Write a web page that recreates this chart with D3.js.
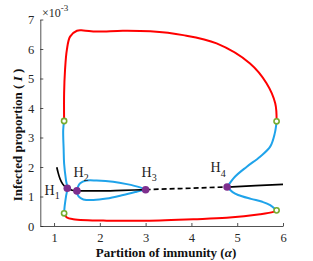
<!DOCTYPE html>
<html><head><meta charset="utf-8">
<script src="https://cdn.jsdelivr.net/npm/d3@7"></script>
<style>
body{margin:0;background:#fff;}
svg{display:block;}
text{font-family:"Liberation Serif","Times New Roman",serif;}
</style></head>
<body>
<svg id="c" width="313" height="261"></svg>
<script>
// ---- data (values in units of 1e-3) ----
const xTicks = [1,2,3,4,5,6];
const yTicks = [0,1,2,3,4,5,6,7];
const redTop = [[1.22,3.56],[1.22,4.5],[1.24,5.29],[1.28,5.97],[1.35,6.42],[1.5,6.62],[1.64,6.63],[1.93,6.59],[2.5,6.62],[3.1,6.6],[3.82,6.47],[4.55,6.19],[5.28,5.51],[5.64,4.84],[5.83,4.16],[5.86,3.56]];
const redBottom = [[1.22,0.43],[1.28,0.29],[1.42,0.23],[2.15,0.18],[3.31,0.19],[4.04,0.23],[4.77,0.28],[5.5,0.40],[5.79,0.48],[5.86,0.53]];
const blueLeft = [[1.22,3.56],[1.20,3.25],[1.21,2.6],[1.22,2.12],[1.26,1.56],[1.29,1.28],[1.26,0.99],[1.23,0.65],[1.22,0.43]];
const blueLoopUpper = [[1.5,1.19],[1.52,1.32],[1.57,1.45],[1.71,1.54],[1.93,1.54],[2.29,1.50],[2.59,1.42],[2.88,1.31],[3.0,1.24]];
const blueLoopLower = [[1.5,1.19],[1.51,1.08],[1.55,0.98],[1.64,0.90],[1.86,0.88],[2.15,0.93],[2.51,1.05],[2.8,1.16],[3.0,1.24]];
const blueRightUpper = [[4.78,1.32],[4.95,1.67],[5.21,2.01],[5.5,2.35],[5.72,2.69],[5.82,3.14],[5.86,3.54]];
const blueRightLower = [[4.78,1.32],[4.9,1.15],[5.02,1.05],[5.3,0.92],[5.55,0.82],[5.72,0.71],[5.86,0.53]];
const blackStable1 = [[1.06,1.99],[1.09,1.8],[1.13,1.6],[1.19,1.42],[1.29,1.28],[1.5,1.19],[2.0,1.19],[2.5,1.21],[3.0,1.23]];
const blackUnstable = [[3.0,1.23],[3.5,1.26],[4.0,1.28],[4.5,1.31],[4.78,1.32]];
const blackStable2 = [[4.78,1.32],[5.4,1.37],[6.0,1.41]];
const hopfPoints = [[1.29,1.28],[1.5,1.19],[3.0,1.23],[4.78,1.32]];
const hopfLabels = ["1","2","3","4"];
const foldPoints = [[1.22,3.56],[1.22,0.43],[5.86,3.55],[5.86,0.53]];

const svg = d3.select("#c");
const x = d3.scaleLinear().domain([0.7,6]).range([40.3,283]);
const y = d3.scaleLinear().domain([0,7]).range([226,19.5]);
const axisCol = "#262626";

// axes
const gx = svg.append("g").attr("transform",`translate(0,${y(0)})`)
  .call(d3.axisBottom(x).tickValues(xTicks).tickSizeInner(-3).tickSizeOuter(0).tickPadding(7).tickFormat(d3.format("d")));
const gy = svg.append("g").attr("transform",`translate(${x(0.7)},0)`)
  .call(d3.axisLeft(y).tickValues(yTicks).tickSizeInner(-3).tickSizeOuter(0).tickPadding(6).tickFormat(d3.format("d")));
[gx,gy].forEach(g=>{
  g.attr("font-family","Liberation Serif, serif").attr("font-size",12.5);
  g.selectAll("path,line").attr("stroke",axisCol).attr("stroke-width",0.8);
  g.selectAll("text").attr("fill",axisCol);
});

// exponent
const ex = svg.append("text").attr("x",42).attr("y",17).attr("fill",axisCol).style("font-size","12px");
ex.append("tspan").text("×10");
ex.append("tspan").attr("dy",-6).style("font-size","9px").text("-3");

// labels
const xl = svg.append("text").attr("x",166).attr("y",256.5).attr("text-anchor","middle")
  .attr("fill","#111").style("font-size","13px").style("font-weight","bold");
xl.append("tspan").text("Partition of immunity (");
xl.append("tspan").style("font-style","italic").text("α");
xl.append("tspan").text(")");
const yl = svg.append("text").attr("transform","translate(22,135) rotate(-90)").attr("text-anchor","middle")
  .attr("fill","#111").style("font-size","13px").style("font-weight","bold");
yl.append("tspan").text("Infected proportion ( ");
yl.append("tspan").style("font-style","italic").text("I");
yl.append("tspan").text(" )");

// curves
const lineC = d3.line().x(d=>x(d[0])).y(d=>y(d[1])).curve(d3.curveCatmullRom.alpha(0.5));
const lineM = d3.line().x(d=>x(d[0])).y(d=>y(d[1])).curve(d3.curveMonotoneX);
const red = "#ff0000", blue = "#1fa3ea";
[redTop, redBottom].forEach(d=>svg.append("path").attr("d",lineC(d)).attr("fill","none").attr("stroke",red).attr("stroke-width",2));
[blueLeft, blueLoopUpper, blueLoopLower, blueRightUpper, blueRightLower].forEach(d=>svg.append("path").attr("d",lineC(d)).attr("fill","none").attr("stroke",blue).attr("stroke-width",2));
svg.append("path").attr("d",lineM(blackStable1)).attr("fill","none").attr("stroke","#000").attr("stroke-width",1.7);
svg.append("path").attr("d",lineM(blackUnstable)).attr("fill","none").attr("stroke","#000").attr("stroke-width",1.7).attr("stroke-dasharray","5,3");
svg.append("path").attr("d",lineM(blackStable2)).attr("fill","none").attr("stroke","#000").attr("stroke-width",1.7);

// markers
svg.selectAll(".hopf").data(hopfPoints).enter().append("circle")
  .attr("cx",d=>x(d[0])).attr("cy",d=>y(d[1])).attr("r",3.8).attr("fill","#7e2f8e");
svg.selectAll(".fold").data(foldPoints).enter().append("circle")
  .attr("cx",d=>x(d[0])).attr("cy",d=>y(d[1])).attr("r",2.6).attr("fill","#fff").attr("stroke","#77ac30").attr("stroke-width",1.6);

// H labels
const hPos = [[44.5,194.5],[73.5,176.7],[141.5,176.7],[210.5,172.3]];
hPos.forEach((p,i)=>{
  const t = svg.append("text").attr("x",p[0]).attr("y",p[1]).attr("fill","#222").style("font-size","14px");
  t.append("tspan").text("H");
  t.append("tspan").attr("dy",4.5).style("font-size","10px").text(hopfLabels[i]);
});
</script>
</body></html>
